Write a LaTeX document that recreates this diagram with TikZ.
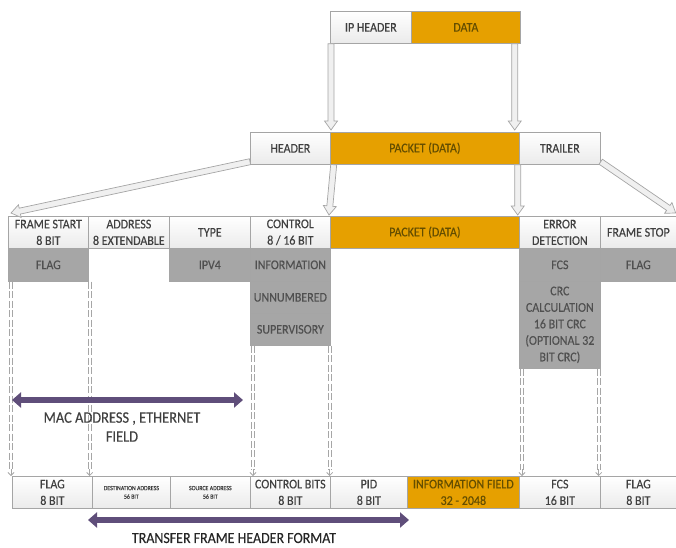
\documentclass[tikz,border=0pt]{standalone}
\usepackage{fontspec}
\setmainfont{Carlito}[FakeStretch=0.9,FakeBold=0.3]
\usetikzlibrary{calc,arrows.meta}

\definecolor{boxline}{RGB}{165,165,165}
\definecolor{boxtext}{RGB}{64,64,64}
\definecolor{darkcell}{RGB}{166,166,166}
\definecolor{darktext}{RGB}{80,80,80}
\definecolor{amber}{RGB}{230,160,0}
\definecolor{ambertext}{RGB}{100,78,0}
\definecolor{plum}{RGB}{95,78,122}
\definecolor{arrowfill}{RGB}{240,240,240}

\tikzset{
  cell/.style={draw=boxline, line width=0.7pt, inner sep=0pt, align=center,
    font=\fontsize{13.3}{16.5}\selectfont},
  lbox/.style={cell, top color=white, bottom color=gray!16, text=boxtext},
  obox/.style={cell, fill=amber, text=ambertext},
  gbox/.style={cell, fill=darkcell, text=darktext},
  tiny/.style={font=\fontsize{6.5}{8.5}\selectfont},
  harrow/.style={draw=boxline, fill=arrowfill, line width=0.7pt, line join=miter},
  ddash/.style={draw=gray!70, double=white, double distance=1.8pt,
    line width=0.9pt, dash pattern=on 7pt off 2.5pt},
  dtip/.style={draw=gray!70, line width=0.8pt, -{Straight Barb[length=3pt,width=6pt]}},
  span/.style={draw=plum, line width=6pt,
    {Triangle[length=9pt,width=15pt]}-{Triangle[length=9pt,width=15pt]}},
  caption/.style={text=boxtext, align=center}
}

% one cell of the frame: name, style, x1, y1, x2, y2, text
\newcommand\cell[7]{%
  \node[#2, anchor=north west, minimum width={(#5-#3)*1pt},
        minimum height={(#6-#4)*1pt}] (#1) at (#3,#4) {#7};}

% broad hollow arrow from #1 to #2
\newcommand\hollowarrow[2]{%
  \path (#1) coordinate (ha) (#2) coordinate (hb);
  \path ($(hb)!9pt!(ha)$) coordinate (hc);
  \draw[harrow] ($(ha)!3pt!90:(hb)$) -- ($(hc)!3pt!90:(hb)$)
    -- ($(hc)!6.5pt!90:(hb)$) -- (hb) -- ($(hc)!6.5pt!-90:(hb)$)
    -- ($(hc)!3pt!-90:(hb)$) -- ($(ha)!3pt!-90:(hb)$) -- cycle;}

% dashed double guide from a cell down to the bottom row
\newcommand\guide[2]{%
  \path (#1) coordinate (ga);
  \path (ga |- #2) coordinate (gb);
  \draw[ddash] (ga) -- ($(gb)+(0,-6)$);
  \draw[dtip] ($(gb)+(0,-7)$) -- (gb);}

\begin{document}
\begin{tikzpicture}[x=1pt,y=-1pt]
\useasboundingbox (0,0) rectangle (676,547);

% IP packet
\cell{iphdr}{lbox}{330}{11}{411}{43}{IP HEADER}
\cell{data}{obox}{411}{11}{520}{43}{DATA}

% encapsulated frame
\cell{hdr}{lbox}{250}{132}{330}{164}{HEADER}
\cell{pkt}{obox}{330}{132}{519}{164}{PACKET (DATA)}
\cell{trl}{lbox}{519}{132}{600}{164}{TRAILER}

% frame fields
\cell{fs}{lbox}{8}{216}{88}{248}{FRAME START\\8 BIT}
\cell{addr}{lbox}{88}{216}{169}{248}{ADDRESS\\8 EXTENDABLE}
\cell{type}{lbox}{169}{216}{250}{248}{TYPE}
\cell{ctrl}{lbox}{250}{216}{330}{248}{CONTROL\\8 / 16 BIT}
\cell{pkt2}{obox}{330}{216}{519}{248}{PACKET (DATA)}
\cell{err}{lbox}{519}{216}{600}{248}{ERROR\\DETECTION}
\cell{fstop}{lbox}{600}{216}{676}{248}{FRAME STOP}

% field contents
\cell{flag1}{gbox}{8}{248}{88}{281}{FLAG}
\cell{ipv4}{gbox}{169}{248}{250}{281}{IPV4}
\cell{info}{gbox}{250}{248}{330}{281}{INFORMATION}
\cell{unnum}{gbox}{250}{281}{330}{313}{UNNUMBERED}
\cell{sup}{gbox}{250}{313}{330}{345}{SUPERVISORY}
\cell{fcs}{gbox}{519}{248}{600}{281}{FCS}
\cell{crc}{gbox}{519}{281}{600}{368}{CRC\\CALCULATION\\16 BIT CRC\\(OPTIONAL 32\\BIT CRC)}
\cell{flag2}{gbox}{600}{248}{676}{281}{FLAG}

% transfer frame
\cell{flagb}{lbox}{12}{476}{92}{508}{FLAG\\8 BIT}
\cell{dst}{lbox,tiny}{92}{476}{170}{508}{DESTINATION ADDRESS\\56 BIT}
\cell{src}{lbox,tiny}{170}{476}{250}{508}{SOURCE ADDRESS\\56 BIT}
\cell{ctrlb}{lbox}{250}{476}{330}{508}{CONTROL BITS\\8 BIT}
\cell{pid}{lbox}{330}{476}{407}{508}{PID\\8 BIT}
\cell{infof}{obox}{407}{476}{519}{508}{INFORMATION FIELD\\32 - 2048}
\cell{fcsb}{lbox}{519}{476}{600}{508}{FCS\\16 BIT}
\cell{flagb2}{lbox}{600}{476}{676}{508}{FLAG\\8 BIT}

% hollow arrows between the layers
\hollowarrow{$(iphdr.south west)+(1,0)$}{$(pkt.north west)+(1,-2)$}
\hollowarrow{$(data.south east)+(-6,0)$}{$(pkt.north east)+(-5,-2)$}
\hollowarrow{$(hdr.south west)+(0,-3)$}{$(fs.north west)+(3,-3)$}
\hollowarrow{$(hdr.south east)+(3,0)$}{$(pkt2.north west)+(-1,-1)$}
\hollowarrow{$(pkt.south east)+(-2,0)$}{$(pkt2.north east)+(-2,-1)$}
\hollowarrow{$(trl.south east)+(0,-3)$}{$(fstop.north east)+(-1,-3)$}

% guides down to the transfer frame
\guide{$(flag1.south west)+(3,0)$}{flagb.north}
\guide{$(flag1.south east)+(1,0)$}{flagb.north}
\guide{$(sup.south west)+(3,0)$}{ctrlb.north}
\guide{$(sup.south east)+(-1,0)$}{ctrlb.north}
\guide{$(crc.south west)+(3,0)$}{fcsb.north}
\guide{$(crc.south east)+(-2,0)$}{fcsb.north}

% spans
\coordinate (macL) at (12,400);
\coordinate (macR) at (243,400);
\draw[span] (macL) -- (macR);
\node[caption, font=\fontsize{16}{19}\selectfont] (maclabel) at (122,427)
  {MAC ADDRESS , ETHERNET\\FIELD};

\coordinate (tfL) at (88,520);
\coordinate (tfR) at (409,520);
\draw[span] (tfL) -- (tfR);
\node[caption, text=black!85, font=\fontsize{15.5}{17}\selectfont] (tflabel) at (234,538)
  {TRANSFER FRAME HEADER FORMAT};
\end{tikzpicture}
\end{document}
